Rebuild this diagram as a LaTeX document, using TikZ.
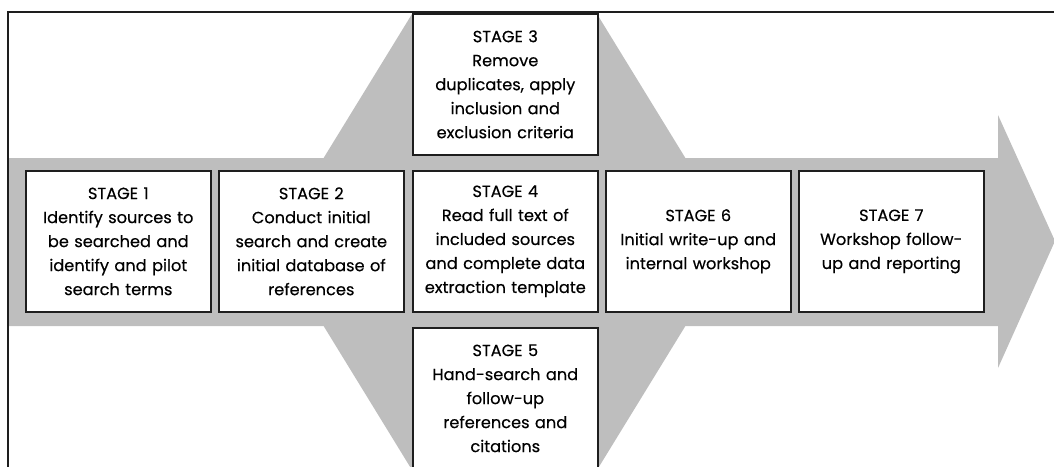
\documentclass[tikz,border=0pt]{standalone}
\usepackage{fontspec}
\setmainfont{Poppins}
\newfontfamily\stagefont{Poppins}[FakeBold=0.35]
\definecolor{bandgray}{RGB}{190,190,190}
\definecolor{linedark}{RGB}{30,30,30}
\begin{document}
\begin{tikzpicture}[x=1pt,y=-1pt,
  stagebox/.style={draw=linedark,line width=1.6pt,fill=white,minimum width=185pt,minimum height=141pt,
    inner sep=0pt,align=center,text width=182pt,font=\stagefont\fontsize{16.2}{24}\selectfont,anchor=north west},
  band/.style={fill=bandgray,draw=none}]
\useasboundingbox (0,0) rectangle (1054,466);
% gray arrow band
\fill[band] (8,158) -- (998,158) -- (998,115) -- (1055,241) -- (998,368) -- (998,326) -- (8,326) -- cycle;
\fill[band] (323,159) -- (412,14) -- (597,14) -- (686,159) -- cycle;
\fill[band] (323,325) -- (412,470) -- (597,470) -- (686,325) -- cycle;
% frame
\draw[linedark,line width=2pt] (8,470) -- (8,12) -- (1056,12);
% boxes
\node[stagebox] (s3) at (412,13) {STAGE 3\\Remove\\duplicates, apply\\inclusion and\\exclusion criteria};
\node[stagebox] (s1) at (25,170) {STAGE 1\\Identify sources to\\be searched and\\identify and pilot\\search terms};
\node[stagebox] (s2) at (218,170) {STAGE 2\\Conduct initial\\search and create\\initial database of\\references};
\node[stagebox] (s4) at (412,170) {STAGE 4\\Read full text of\\included sources\\and complete data\\extraction template};
\node[stagebox] (s6) at (605,170) {STAGE 6\\Initial write-up and\\internal workshop};
\node[stagebox] (s7) at (798,170) {STAGE 7\\Workshop follow-\\up and reporting};
\node[stagebox] (s5) at (412,327) {STAGE 5\\Hand-search and\\follow-up\\references and\\citations};
\end{tikzpicture}
\end{document}
